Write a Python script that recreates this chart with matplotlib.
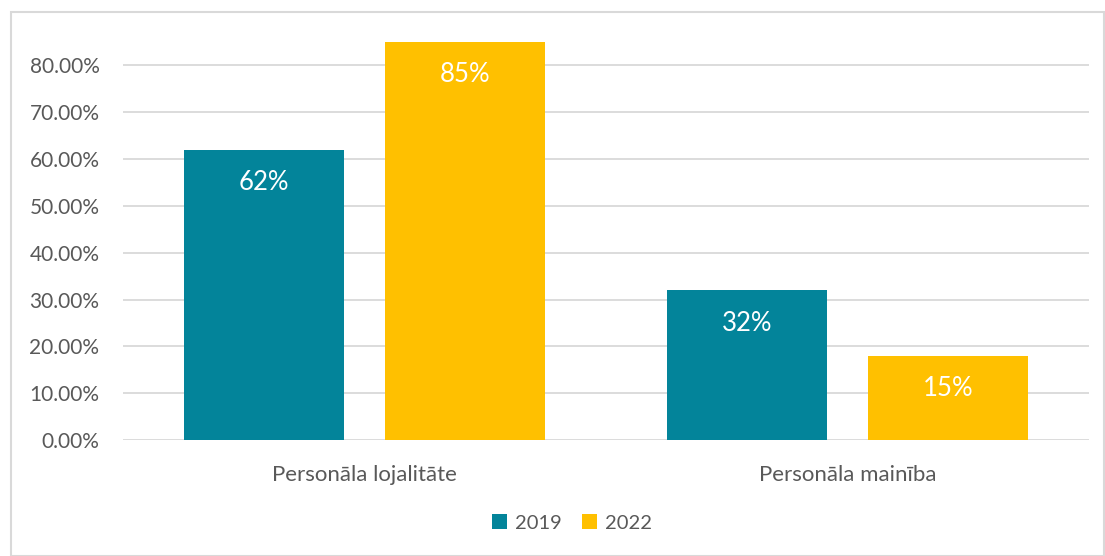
import matplotlib
matplotlib.use("Agg")
import matplotlib.pyplot as plt
from matplotlib.patches import Rectangle
import numpy as np

categories = ["Personāla lojalitāte", "Personāla mainība"]
series_names = ["2019", "2022"]
values_2019 = [0.62, 0.32]
values_2022 = [0.85, 0.18]
labels_2019 = ["62%", "32%"]
labels_2022 = ["85%", "15%"]
colors = ["#03849A", "#FFC000"]

plt.rcParams['font.family'] = ['Lato', 'DejaVu Sans']

fig = plt.figure(figsize=(11.05, 5.56), dpi=100)
ax = fig.add_axes([123/1105, 1-440/556, (1089-123)/1105, (440-42)/556])

x = np.arange(len(categories))
w = 0.331
off = 0.208
for vals, labs, col, name, sgn in [(values_2019, labels_2019, colors[0], series_names[0], -1),
                                   (values_2022, labels_2022, colors[1], series_names[1], 1)]:
    bars = ax.bar(x + sgn*off, vals, w, color=col, label=name, zorder=3)
    for b, lab in zip(bars, labs):
        ax.annotate(lab, (b.get_x()+b.get_width()/2, b.get_height()),
                    xytext=(0, -33), textcoords="offset pixels",
                    ha="center", va="center", color="white", fontsize=18.5, zorder=4)

ax.set_xlim(-0.5, 1.5)
ax.set_ylim(0, 0.85)
ax.set_yticks(np.arange(0, 0.81, 0.1))
ax.set_yticklabels([f"{v*100:.2f}%" for v in np.arange(0, 0.81, 0.1)])
ax.set_xticks(x)
ax.set_xticklabels(categories)
ax.grid(axis="y", color="#D9D9D9", linewidth=1.3, zorder=0)
for s in ax.spines.values():
    s.set_visible(False)
ax.tick_params(axis="both", length=0, colors="#595959")
ax.tick_params(axis="y", pad=17, labelsize=15)
ax.tick_params(axis="x", pad=18, labelsize=16)

leg = fig.legend(loc="center", bbox_to_anchor=(572/1105, 1-523/556), ncol=2, frameon=False,
                 fontsize=14.5, handlelength=0.75, handleheight=0.75, handletextpad=0.4,
                 columnspacing=1.0)
for t in leg.get_texts():
    t.set_color("#595959")

fig.patches.append(Rectangle((11/1105, 0), (1104-11)/1105, 1-12/556, transform=fig.transFigure,
                             fill=False, edgecolor="#D9D9D9", linewidth=1.5))

fig.savefig("out.png", dpi=100)
